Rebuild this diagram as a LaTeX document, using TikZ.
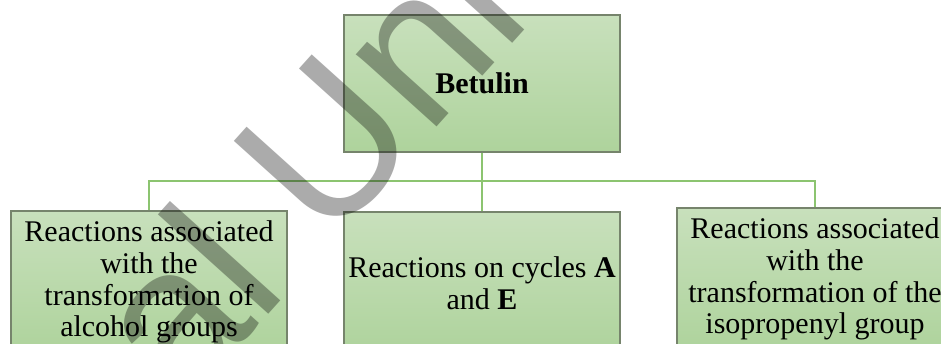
\documentclass[tikz,border=0pt]{standalone}
\usepackage{fontspec}
\setmainfont{Liberation Serif}
\newfontfamily\wmfont{Liberation Sans}
\definecolor{boxtop}{RGB}{200,224,188}
\definecolor{boxbot}{RGB}{174,211,156}
\definecolor{boxline}{RGB}{118,132,108}
\definecolor{conn}{RGB}{140,196,112}
\begin{document}
\begin{tikzpicture}[x=1pt,y=-1pt,
  box/.style={draw=boxline,line width=1.1pt,top color=boxtop,bottom color=boxbot,
    minimum width=276pt,inner sep=2pt,align=center,
    font=\fontsize{30}{31.7}\selectfont},
  conline/.style={draw=conn,line width=1.8pt},
  watermark/.style={font=\wmfont\fontsize{205}{205}\selectfont,text=black,text opacity=0.33,inner sep=0pt,rotate=48}]
\useasboundingbox (0,0) rectangle (941,343);
\clip (0,0) rectangle (941,343);
\node[box,minimum height=137pt] (top) at (482,83.5) {\bfseries Betulin};
\node[box,minimum height=142pt] (left) at (149,282) {Reactions associated\\with the\\transformation of\\alcohol groups};
\node[box,minimum height=142pt] (mid) at (482,283) {Reactions on cycles \textbf{A}\\and \textbf{E}};
\node[box,minimum height=142pt] (right) at (815,279) {Reactions associated\\with the\\transformation of the\\isopropenyl group};
\coordinate (hub) at (482,181);
\draw[conline] (top.south) -- (mid.north);
\draw[conline] (hub) -| (left.north);
\draw[conline] (hub) -| (right.north);
\node[watermark,anchor=base west] (wmU) at (328,248) {Uni};
\node[watermark,anchor=base east] (wmL) at (290,290) {al};
\end{tikzpicture}
\end{document}
